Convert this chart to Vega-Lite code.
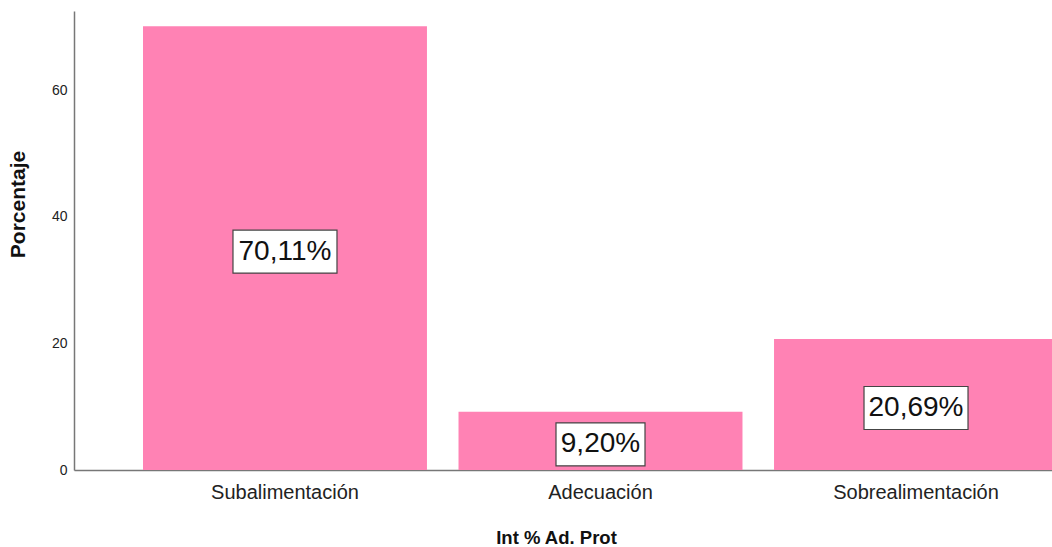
{
  "$schema": "https://vega.github.io/schema/vega-lite/v6.json",
  "width": 978,
  "height": 459,
  "autosize": {"type": "none"},
  "padding": {"left": 74, "top": 11, "right": 0, "bottom": 77},
  "background": "white",
  "config": {"view": {"stroke": null}, "font": "Liberation Sans"},
  "data": {
    "values": [
      {"cat": "Subalimentación", "pct": 70.11},
      {"cat": "Adecuación", "pct": 9.20},
      {"cat": "Sobrealimentación", "pct": 20.69}
    ]
  },
  "transform": [
    {"calculate": "datum.pct / 2", "as": "mid"},
    {"calculate": "replace(format(datum.pct, '.2f'), '.', ',') + '%'", "as": "label"}
  ],
  "encoding": {
    "x": {
      "field": "cat",
      "type": "nominal",
      "sort": null,
      "scale": {"range": [0, 1053], "paddingInner": 0.1, "paddingOuter": 0.2187},
      "axis": {
        "title": "Int % Ad. Prot",
        "titleFont": "Liberation Sans",
        "titleFontSize": 18.5,
        "titleFontWeight": "bold",
        "titleColor": "#111",
        "titleX": 482,
        "titleY": 73,
        "titleBaseline": "alphabetic",
        "titleAlign": "center",
        "labelFont": "Liberation Sans",
        "labelFontSize": 20,
        "labelColor": "#222",
        "labelAngle": 0,
        "labelPadding": 12,
        "ticks": false,
        "tickSize": 0,
        "domainColor": "#777",
        "domainWidth": 1.5,
        "grid": false
      }
    }
  },
  "layer": [
    {
      "mark": {"type": "bar", "color": "#FF82B4"},
      "encoding": {
        "y": {
          "field": "pct",
          "type": "quantitative",
          "scale": {"domain": [0, 72.5], "nice": false, "zero": true},
          "axis": {
            "title": "Porcentaje",
            "titleFont": "Liberation Sans",
            "titleFontSize": 21,
            "titleFontWeight": "bold",
            "titleColor": "#111",
            "titleAngle": -90,
            "titleX": -46,
            "titleY": 193,
            "titleAlign": "center",
            "titleBaseline": "bottom",
            "values": [0, 20, 40, 60],
            "labelFont": "Liberation Sans",
            "labelFontSize": 14,
            "labelColor": "#222",
            "labelPadding": 7,
            "ticks": false,
            "tickSize": 0,
            "domainColor": "#777",
            "domainWidth": 1.5,
            "grid": false
          }
        }
      }
    },
    {
      "mark": {"type": "point", "filled": true, "fill": "white", "stroke": "#444", "strokeWidth": 1.2, "opacity": 1, "yOffset": 3.5},
      "encoding": {
        "y": {"field": "mid", "type": "quantitative"},
        "shape": {
          "condition": {"test": "datum.cat === 'Adecuación'", "value": "M-1,-0.483H1V0.483H-1Z"},
          "value": "M-1,-0.4135H1V0.4135H-1Z"
        },
        "size": {
          "condition": {"test": "datum.cat === 'Adecuación'", "value": 7921},
          "value": 10816
        }
      }
    },
    {
      "mark": {"type": "text", "font": "Liberation Sans", "fontSize": 28, "color": "#111", "baseline": "middle", "align": "center", "yOffset": 3.5},
      "encoding": {
        "y": {"field": "mid", "type": "quantitative"},
        "text": {"field": "label", "type": "nominal"}
      }
    }
  ]
}
